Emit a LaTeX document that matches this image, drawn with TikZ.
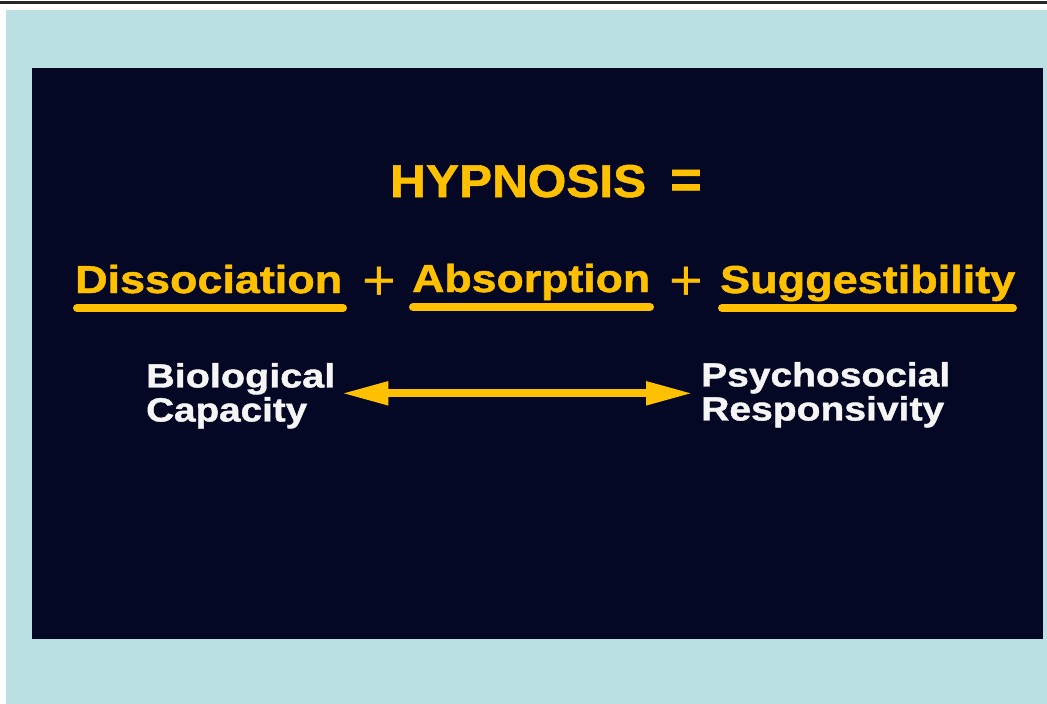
\documentclass[tikz,border=0pt]{standalone}
\usepackage{fontspec}
\setmainfont{Liberation Sans}[BoldFeatures={FakeBold=1.2}]
\usepackage{graphicx}
\usetikzlibrary{arrows.meta}
\definecolor{bgblue}{RGB}{187,224,227}
\definecolor{navy}{RGB}{5,8,36}
\definecolor{hyellow}{RGB}{255,192,0}
\definecolor{offwhite}{RGB}{245,245,245}
\tikzset{
  lbl/.style={inner sep=0pt, anchor=base west},
  title/.style={lbl, text=hyellow, font=\bfseries\fontsize{46}{46}\selectfont},
  term/.style={lbl, text=hyellow, font=\bfseries\fontsize{39}{39}\selectfont},
  op/.style={inner sep=0pt, anchor=center, text=hyellow, font=\mdseries\fontsize{58}{58}\selectfont},
  pole/.style={inner sep=0pt, anchor=north west, align=left, text=offwhite, font=\bfseries\fontsize{33.5}{34}\selectfont},
  uline/.style={draw=hyellow, line width=8pt, line cap=round},
  dblarrow/.style={draw=hyellow, line width=8pt, {Triangle[length=47pt,width=22pt]}-{Triangle[length=47pt,width=22pt]}},
}
\begin{document}
\begin{tikzpicture}[x=1pt,y=-1pt]
\useasboundingbox (0,0) rectangle (1047,704);
\fill[white] (0,0) rectangle (1047,704);
\fill[black!85] (0,0.5) rectangle (1047,3.5);
\fill[bgblue] (6,10) rectangle (1047,704);
\fill[navy] (32,68) rectangle (1042.5,638.5);
% title
\node[title] (hyp) at (390,197) {\resizebox{256pt}{\height}{HYPNOSIS}};
\node[op] (eq) at (686,184) {\bfseries\fontsize{54}{54}\selectfont =};
% terms
\node[term] (dis) at (75,293) {\resizebox{267pt}{\height}{Dissociation}};
\node[op] (plus1) at (379,284) {+};
\node[term] (abs) at (412,292) {\resizebox{238pt}{\height}{Absorption}};
\node[op] (plus2) at (686,284) {+};
\node[term] (sug) at (720,293) {\resizebox{295pt}{\height}{Suggestibility}};
% underlines
\draw[uline] (77,308) -- (343,308);
\draw[uline] (413,307) -- (650,307);
\draw[uline] (722,308) -- (1013,308);
% poles
\node[pole] (bio) at (146,363) {\resizebox{189pt}{\height}{Biological}\\\resizebox{161pt}{\height}{Capacity}};
\node[pole] (psy) at (701,362) {\resizebox{249pt}{\height}{Psychosocial}\\\resizebox{243pt}{\height}{Responsivity}};
\draw[dblarrow] ([xshift=6pt,yshift=2.5pt]bio.east) -- ([xshift=-8pt,yshift=2.5pt]bio.east -| psy.west);
\end{tikzpicture}
\end{document}
